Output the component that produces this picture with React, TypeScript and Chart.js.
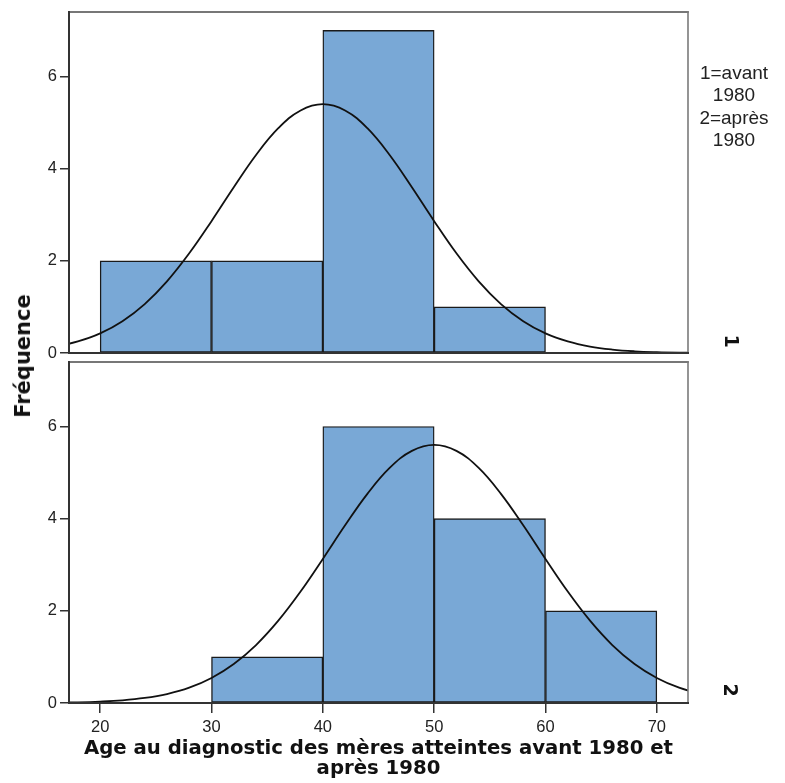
import React, { useEffect, useRef } from 'react';
import { Chart, registerables } from 'chart.js';

Chart.register(...registerables);

// Histogram bins (centres) and counts
const binCentersTop = [25, 35, 45, 55];
const countsTop = [2, 2, 7, 1];
const binCentersBottom = [35, 45, 55, 65];
const countsBottom = [1, 6, 4, 2];

// Normal-curve overlay, values
const curveX = [16, 18, 20, 22, 24, 26, 28, 30, 32, 34, 36, 38, 40, 42, 44, 46, 48, 50, 52, 54, 56, 58, 60, 62, 64, 66, 68, 70, 72, 74];
const curveTop = [0.139, 0.25, 0.425, 0.69, 1.062, 1.555, 2.163, 2.861, 3.596, 4.296, 4.878, 5.264, 5.4, 5.264, 4.878, 4.296, 3.596, 2.861, 2.163, 1.555, 1.062, 0.69, 0.425, 0.25, 0.139, 0.074, 0.037, 0.018, 0.008, 0.004];
const curveBottom = [0.007, 0.014, 0.03, 0.058, 0.109, 0.195, 0.333, 0.544, 0.847, 1.258, 1.786, 2.418, 3.126, 3.856, 4.539, 5.101, 5.471, 5.6, 5.471, 5.101, 4.539, 3.856, 3.126, 2.418, 1.786, 1.258, 0.847, 0.544, 0.333, 0.195];

const xMin = 17.2;
const xMax = 72.8;
const yMax = 7.4;
const xTickStep = 10;
const yTickStep = 2;

const xTitle = ['Age au diagnostic des mères atteintes avant 1980 et', 'après 1980'];
const yTitle = 'Fréquence';
const legendLines = ['1=avant', '1980', '2=après', '1980'];
const panelLabels = ['1', '2'];

const BAR_COLOR = '#79a8d6';

const framePlugin = {
  id: 'frame',
  afterDatasetsDraw(chart: any) {
    const { ctx, chartArea: a } = chart;
    ctx.save();
    ctx.lineCap = 'square';
    ctx.strokeStyle = '#4a4a4a';
    ctx.lineWidth = 1.6;
    ctx.beginPath();
    ctx.moveTo(a.left, a.top);
    ctx.lineTo(a.right, a.top);
    ctx.stroke();
    ctx.strokeStyle = '#7a7a7a';
    ctx.beginPath();
    ctx.moveTo(a.right, a.top);
    ctx.lineTo(a.right, a.bottom);
    ctx.stroke();
    ctx.strokeStyle = '#333';
    ctx.lineWidth = 2;
    ctx.beginPath();
    ctx.moveTo(a.left, a.top);
    ctx.lineTo(a.left, a.bottom);
    ctx.lineTo(a.right, a.bottom);
    ctx.stroke();
    ctx.restore();
  },
};

function makePanel(canvas: HTMLCanvasElement, centers: number[], counts: number[], curve: number[], showX: boolean, padding: any) {
  return new Chart(canvas, {
    type: 'bar',
    data: {
      datasets: [
        {
          type: 'line',
          data: curveX.map((x, i) => ({ x, y: curve[i] })),
          borderColor: '#111',
          borderWidth: 1.8,
          pointRadius: 0,
          tension: 0.4,
          fill: false,
          order: 0,
        } as any,
        {
          type: 'bar',
          data: centers.map((x, i) => ({ x, y: counts[i] })),
          backgroundColor: BAR_COLOR,
          borderColor: '#1a1a1a',
          borderWidth: 1.4,
          borderSkipped: false,
          barPercentage: 1,
          categoryPercentage: 1,
          order: 1,
        } as any,
      ],
    },
    options: {
      animation: false,
      responsive: false,
      maintainAspectRatio: false,
      layout: { padding },
      plugins: { legend: { display: false }, tooltip: { enabled: false } },
      scales: {
        x: {
          type: 'linear',
          display: showX,
          min: xMin,
          max: xMax,
          offset: false,
          grid: { display: true, offset: false, drawOnChartArea: false, drawTicks: true, tickLength: 10, color: '#333', lineWidth: 1.5 },
          border: { display: false },
          ticks: {
            stepSize: xTickStep,
            includeBounds: false,
            maxRotation: 0,
            autoSkip: false,
            padding: 5,
            color: '#222',
            font: { family: 'Liberation Sans', size: 16.5 },
          },
          title: {
            display: showX,
            text: xTitle,
            color: '#111',
            font: { family: 'DejaVu Sans', size: 19.7, weight: 'bold', lineHeight: '20px' },
            padding: { top: 0, bottom: 4 },
          },
          afterFit: (s: any) => {
            if (showX) s.height = 80;
            s.paddingLeft = 0;
            s.paddingRight = 0;
          },
        } as any,
        y: {
          type: 'linear',
          min: 0,
          max: yMax,
          grid: { display: true, drawOnChartArea: false, drawTicks: true, tickLength: 9, color: '#333', lineWidth: 1.5 },
          border: { display: false },
          ticks: {
            stepSize: yTickStep,
            includeBounds: false,
            padding: 3,
            color: '#222',
            font: { family: 'Liberation Sans', size: 16.5 },
          },
          afterFit: (s: any) => {
            s.width = 69;
            s.paddingTop = 0;
            s.paddingBottom = 0;
          },
        } as any,
      },
    },
    plugins: [framePlugin],
  });
}

export default function App() {
  const topRef = useRef<HTMLCanvasElement>(null);
  const botRef = useRef<HTMLCanvasElement>(null);

  useEffect(() => {
    const c1 = makePanel(topRef.current!, binCentersTop, countsTop, curveTop, false, { top: 12, right: 97, bottom: 7, left: 0 });
    const c2 = makePanel(botRef.current!, binCentersBottom, countsBottom, curveBottom, true, { top: 4, right: 97, bottom: 0, left: 0 });
    return () => {
      c1.destroy();
      c2.destroy();
    };
  }, []);

  const abs: React.CSSProperties = { position: 'absolute', whiteSpace: 'nowrap' };

  return (
    <div style={{ position: 'absolute', left: 0, top: 0, width: 785, height: 783, background: '#fff', overflow: 'hidden' }}>
      <canvas ref={topRef} width={785} height={360} style={{ position: 'absolute', left: 0, top: 0, width: 785, height: 360 }} />
      <canvas ref={botRef} width={785} height={425} style={{ position: 'absolute', left: 0, top: 358, width: 785, height: 425 }} />
      <div
        style={{
          ...abs,
          left: 23,
          top: 356,
          transform: 'translate(-50%, -50%) rotate(-90deg)',
          font: 'bold 21px "DejaVu Sans"',
          color: '#111',
        }}
      >
        {yTitle}
      </div>
      <div
        style={{
          ...abs,
          left: 684,
          top: 62,
          width: 100,
          textAlign: 'center',
          font: '19px "Liberation Sans"',
          lineHeight: '22.3px',
          color: '#222',
        }}
      >
        {legendLines.map((l, i) => (
          <div key={i}>{l}</div>
        ))}
      </div>
      <div style={{ ...abs, left: 732, top: 341, transform: 'translate(-50%, -50%) rotate(90deg)', font: 'bold 19px "DejaVu Sans"', color: '#111' }}>
        {panelLabels[0]}
      </div>
      <div style={{ ...abs, left: 731, top: 690, transform: 'translate(-50%, -50%) rotate(90deg)', font: 'bold 19px "DejaVu Sans"', color: '#111' }}>
        {panelLabels[1]}
      </div>
    </div>
  );
}
